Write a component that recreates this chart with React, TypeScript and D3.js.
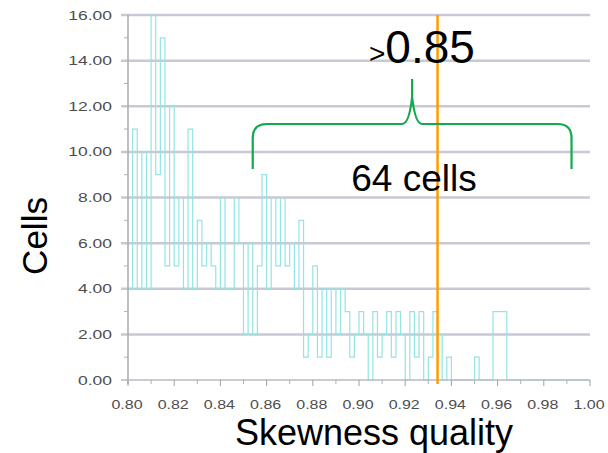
import React from 'react';
import * as d3 from 'd3';

// histogram of skewness quality, bin width 0.002 starting at 0.800
const binStart = 0.8;
const binWidth = 0.002;
const cellCounts = [
  4, 11, 4, 10, 4, 16, 9, 15, 5, 12,
  5, 8, 4, 11, 4, 7, 5, 6, 5, 4,
  8, 4, 4, 8, 6, 2, 6, 2, 5, 9,
  4, 8, 5, 8, 5, 6, 4, 7, 1, 2,
  5, 1, 4, 1, 4, 2, 4, 3, 1, 2,
  3, 2, 0, 3, 1, 2, 3, 1, 3, 2,
  0, 3, 1, 3, 0, 1, 3, 2, 0, 1,
  0, 0, 0, 0, 0, 1, 0, 0, 0, 3,
  3, 3, 0, 0, 0, 0, 0, 0, 0, 0,
  0, 0, 0, 0, 0, 0, 0, 0, 0, 0,
];
const yTicks = [0, 2, 4, 6, 8, 10, 12, 14, 16];
const xTicks = [0.8, 0.82, 0.84, 0.86, 0.88, 0.9, 0.92, 0.94, 0.96, 0.98, 1.0];
const threshold = 0.934;
const braceFrom = 0.854;
const braceTo = 0.992;

const App = () => {
  const x = d3.scaleLinear().domain([0.8, 1.0]).range([128, 590]);
  const y = d3.scaleLinear().domain([0, 16]).range([380, 15]);

  const pts: [number, number][] = [];
  cellCounts.forEach((c, i) => {
    const x0 = binStart + i * binWidth;
    pts.push([x0, c]);
    pts.push([x0 + binWidth, c]);
  });
  const step = d3
    .line<[number, number]>()
    .x((d) => x(d[0]))
    .y((d) => y(d[1]));

  const minorY = d3.range(1, 16, 2);
  const minorX = d3.range(0.81, 1.0, 0.02);

  // curly brace above the >0.85 region
  const bx0 = x(braceFrom);
  const bx1 = x(braceTo);
  const bm = (bx0 + bx1) / 2;
  const by = 124;
  const bEnd = 169;
  const bTip = 79;
  const brace = `M${bx0},${bEnd} L${bx0},${by + 14} Q${bx0},${by} ${bx0 + 14},${by} L${bm - 10},${by} Q${bm - 3},${by} ${bm},${bTip + 18} L${bm},${bTip} M${bm},${bTip + 18} Q${bm + 3},${by} ${bm + 10},${by} L${bx1 - 14},${by} Q${bx1},${by} ${bx1},${by + 14} L${bx1},${bEnd}`;

  return (
    <svg width={608} height={453} style={{ position: 'absolute', left: 0, top: 0, background: '#fff' }}>
      {/* gridlines */}
      {yTicks.slice(1).map((t) => (
        <line key={t} x1={121} x2={590} y1={y(t)} y2={y(t)} stroke="#c9c9d3" strokeWidth={2.5} />
      ))}
      {/* histogram */}
      <path d={step(pts) || ''} fill="none" stroke="#94e4e4" strokeWidth={1.2} />
      {/* axes */}
      <line x1={128} x2={128} y1={15} y2={384} stroke="#a9a9b0" strokeWidth={1.5} />
      <line x1={121} x2={590} y1={380} y2={380} stroke="#b8b8c0" strokeWidth={1.5} />
      {minorY.map((t) => (
        <line key={t} x1={124} x2={128} y1={y(t)} y2={y(t)} stroke="#b0b0b8" strokeWidth={1} />
      ))}
      {xTicks.map((t) => (
        <line key={t} x1={x(t)} x2={x(t)} y1={380} y2={386} stroke="#a0a0a8" strokeWidth={1} />
      ))}
      {minorX.map((t) => (
        <line key={t} x1={x(t)} x2={x(t)} y1={380} y2={384} stroke="#b0b0b8" strokeWidth={1} />
      ))}
      {/* tick labels */}
      {yTicks.map((t) => (
        <text
          key={t}
          transform={`translate(112,${y(t) + 4.5}) scale(1.4,1)`}
          textAnchor="end"
          fontFamily="Liberation Sans, Arial, sans-serif"
          fontSize={12.5}
          fill="#4e4e4e"
        >
          {t.toFixed(2)}
        </text>
      ))}
      {xTicks.map((t) => (
        <text
          key={t}
          transform={`translate(${x(t) - 1},${408.5}) scale(1.28,1)`}
          textAnchor="middle"
          fontFamily="Liberation Sans, Arial, sans-serif"
          fontSize={12.5}
          fill="#4e4e4e"
        >
          {t.toFixed(2)}
        </text>
      ))}
      {/* threshold line */}
      <line x1={x(threshold)} x2={x(threshold)} y1={15} y2={384} stroke="#ff9c00" strokeWidth={2.5} />
      {/* annotation */}
      <path d={brace} fill="none" stroke="#12aa4e" strokeWidth={2.2} />
      <text x={369} y={63} fontFamily="Liberation Sans, Arial, sans-serif" fill="#000">
        <tspan fontSize={28}>&gt;</tspan>
        <tspan fontSize={46}>0.85</tspan>
      </text>
      <text x={414} y={191} textAnchor="middle" fontFamily="Liberation Sans, Arial, sans-serif" fontSize={37} fill="#000">
        64 cells
      </text>
      {/* axis titles */}
      <text x={374} y={445} textAnchor="middle" fontFamily="Liberation Sans, Arial, sans-serif" fontSize={36} fill="#000">
        Skewness quality
      </text>
      <text
        transform="translate(47,236) rotate(-90)"
        textAnchor="middle"
        fontFamily="Liberation Sans, Arial, sans-serif"
        fontSize={35}
        fill="#000"
      >
        Cells
      </text>
    </svg>
  );
};

export default App;
